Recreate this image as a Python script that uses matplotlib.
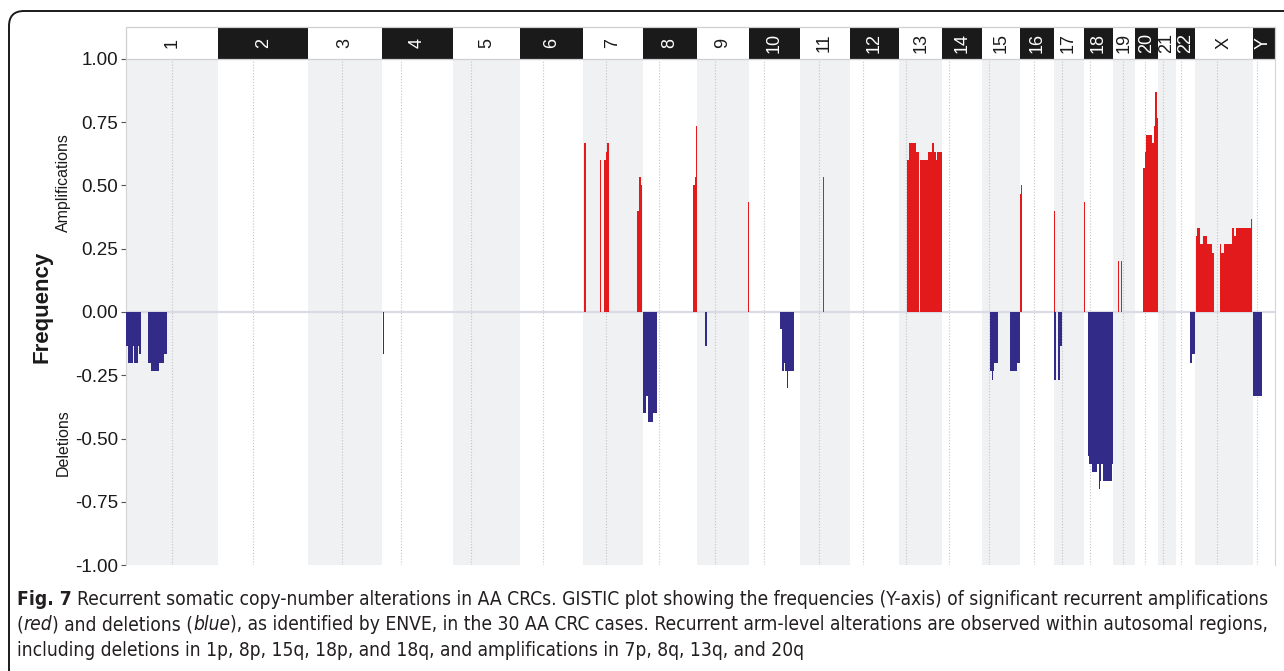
import matplotlib
matplotlib.use("Agg")
import matplotlib.pyplot as plt
from matplotlib.patches import Rectangle, FancyBboxPatch
from matplotlib.transforms import IdentityTransform

# ---------------------------------------------------------------- data
CHROMS = ['1', '2', '3', '4', '5', '6', '7', '8', '9', '10', '11', '12',
          '13', '14', '15', '16', '17', '18', '19', '20', '21', '22', 'X', 'Y']
CHROM_LEN_MB = [249.25, 243.20, 198.02, 191.15, 180.92, 171.12, 159.14, 146.36,
                141.21, 135.53, 135.01, 133.85, 115.17, 107.35, 102.53, 90.35,
                81.20, 78.08, 59.13, 63.03, 48.13, 51.30, 155.27, 59.37]
CENTROMERE_MB = [125.0, 93.3, 91.0, 50.4, 48.4, 61.0, 59.9, 45.6, 49.0, 40.2,
                 53.7, 35.8, 17.9, 17.6, 19.0, 36.6, 24.0, 17.2, 26.5, 27.5,
                 13.2, 14.7, 60.6, 12.5]

# recurrent amplified segments: (chromosome, start Mb, end Mb, frequency)
AMP_SEGMENTS = [
    ('1', 153.6, 154.0, 0.533),
    ('4', 3.0, 3.5, 0.267),
    ('5', 142.3, 142.7, 0.500), ('5', 142.7, 143.0, 0.433),
    ('6', 29.0, 29.3, 0.467),
    ('7', 1.5, 7.0, 0.667), ('7', 43.5, 47.0, 0.600),
    ('7', 56.3, 60.1, 0.600), ('7', 60.1, 64.4, 0.633), ('7', 64.4, 68.2, 0.667),
    ('7', 102.8, 103.2, 0.367),
    ('7', 145.5, 149.3, 0.400), ('7', 149.3, 154.5, 0.533),
    ('7', 154.5, 157.0, 0.500), ('7', 157.0, 159.1, 0.467),
    ('8', 136.5, 140.8, 0.500), ('8', 140.8, 143.0, 0.533),
    ('8', 143.0, 145.0, 0.633), ('8', 145.0, 146.0, 0.733),
    ('9', 138.5, 141.0, 0.433),
    ('11', 4.0, 4.4, 0.267), ('11', 64.0, 67.0, 0.533),
    ('13', 21.5, 25.3, 0.600), ('13', 25.3, 45.0, 0.667), ('13', 45.0, 54.0, 0.633),
    ('13', 54.4, 78.0, 0.600), ('13', 78.0, 86.8, 0.633), ('13', 87.2, 93.5, 0.667),
    ('13', 93.5, 98.6, 0.633), ('13', 99.0, 101.5, 0.600), ('13', 101.5, 114.5, 0.633),
    ('13', 114.5, 115.1, 0.667),
    ('16', 0.3, 3.8, 0.467), ('16', 3.8, 4.4, 0.500),
    ('17', 0.2, 3.6, 0.400), ('17', 41.0, 41.4, 0.500),
    ('18', 1.8, 2.3, 0.433),
    ('19', 15.2, 15.7, 0.200), ('19', 23.0, 24.6, 0.200), ('19', 24.6, 25.2, 0.267),
    ('19', 53.8, 55.5, 0.133),
    ('20', 23.6, 27.3, 0.567), ('20', 27.3, 30.7, 0.633), ('20', 30.7, 38.6, 0.700),
    ('20', 39.2, 47.3, 0.700), ('20', 47.3, 51.7, 0.667), ('20', 51.7, 56.2, 0.733),
    ('20', 56.2, 59.6, 0.867), ('20', 59.6, 62.5, 0.767),
    ('X', 1.9, 6.2, 0.300), ('X', 6.2, 12.7, 0.333), ('X', 12.7, 21.7, 0.267),
    ('X', 21.7, 26.8, 0.300), ('X', 27.4, 32.5, 0.300), ('X', 32.5, 40.5, 0.267),
    ('X', 41.1, 46.9, 0.267), ('X', 46.9, 52.3, 0.233), ('X', 66.9, 71.3, 0.267),
    ('X', 71.3, 78.6, 0.233), ('X', 78.6, 101.1, 0.267), ('X', 101.1, 105.7, 0.333),
    ('X', 105.7, 110.3, 0.300), ('X', 110.3, 118.6, 0.333), ('X', 119.2, 129.5, 0.333),
    ('X', 130.1, 137.5, 0.333), ('X', 138.1, 151.0, 0.333), ('X', 151.0, 154.3, 0.367),
    ('X', 154.3, 155.0, 0.433),
]

# recurrent deleted segments: (chromosome, start Mb, end Mb, frequency)
DEL_SEGMENTS = [
    ('1', 2.2, 7.5, -0.133), ('1', 7.5, 18.9, -0.200), ('1', 18.9, 19.6, -0.233),
    ('1', 19.6, 22.9, -0.133), ('1', 22.9, 27.5, -0.200), ('1', 27.5, 29.1, -0.133),
    ('1', 29.1, 32.9, -0.200), ('1', 32.9, 36.4, -0.133), ('1', 36.4, 40.9, -0.167),
    ('1', 40.9, 42.6, -0.133),
    ('1', 61.4, 67.9, -0.200), ('1', 67.9, 89.4, -0.233), ('1', 89.4, 102.9, -0.200),
    ('1', 102.9, 111.8, -0.167),
    ('4', 3.5, 5.0, -0.167),
    ('8', 2.2, 9.4, -0.400), ('8', 9.4, 14.8, -0.333), ('8', 14.8, 29.1, -0.433),
    ('8', 29.1, 39.1, -0.400),
    ('9', 23.0, 26.5, -0.133),
    ('10', 83.0, 88.4, -0.067), ('10', 88.4, 93.8, -0.233), ('10', 93.8, 97.5, -0.200),
    ('10', 97.5, 102.9, -0.233), ('10', 102.9, 104.0, -0.300), ('10', 104.0, 119.9, -0.233),
    ('15', 21.8, 26.4, -0.233), ('15', 26.4, 30.7, -0.267), ('15', 30.7, 32.6, -0.233),
    ('15', 32.6, 40.7, -0.200), ('15', 40.7, 41.3, -0.300), ('15', 41.3, 44.2, -0.200),
    ('15', 76.5, 78.8, -0.233), ('15', 78.8, 79.5, -0.300), ('15', 79.5, 83.0, -0.233),
    ('15', 83.0, 83.6, -0.267), ('15', 83.6, 93.7, -0.233), ('15', 93.7, 102.4, -0.200),
    ('17', 0.5, 5.9, -0.267), ('17', 12.9, 16.7, -0.267), ('17', 16.7, 23.7, -0.133),
    ('18', 9.5, 10.0, -0.600),
    ('18', 11.0, 15.4, -0.567), ('18', 15.4, 21.8, -0.600), ('18', 21.8, 35.3, -0.633),
    ('18', 35.3, 40.7, -0.600), ('18', 40.7, 46.1, -0.667), ('18', 46.1, 52.3, -0.600),
    ('18', 52.3, 75.7, -0.667), ('18', 75.7, 78.0, -0.600), ('18', 42.0, 42.6, -0.700),
    ('22', 18.3, 19.0, -0.200), ('22', 38.3, 40.5, -0.200), ('22', 40.5, 41.2, -0.233),
    ('22', 41.2, 43.0, -0.200), ('22', 43.0, 50.9, -0.167),
    ('Y', 2.0, 26.0, -0.333),
]

Y_TICKS = [1.00, 0.75, 0.50, 0.25, 0.00, -0.25, -0.50, -0.75, -1.00]

CAPTION_LINES = [
    [("Fig. 7", "bold"), (" ", "normal"),
     ("Recurrent somatic copy-number alterations in AA CRCs. GISTIC plot showing the "
      "frequencies (Y-axis) of significant recurrent amplifications", "normal")],
    [("(", "normal"), ("red", "italic"), (") and deletions (", "normal"), ("blue", "italic"),
     ("), as identified by ENVE, in the 30 AA CRC cases. Recurrent arm-level alterations "
      "are observed within autosomal regions,", "normal")],
    [("including deletions in 1p, 8p, 15q, 18p, and 18q, and amplifications in 7p, 8q, "
      "13q, and 20q", "normal")],
]

# ---------------------------------------------------------------- style
AMP_COLOR = '#E31A1C'
DEL_COLOR = '#322C88'
BAND_COLOR = '#F0F1F3'
HEADER_DARK = '#1A1A1A'
TEXT_COLOR = '#1A1A1A'
CAPTION_COLOR = '#231F20'
CAPTION_FONT = ['DejaVu Sans']
AXIS_FONT = ['Liberation Sans', 'DejaVu Sans']

W_PX, H_PX = 1284, 671
fig = plt.figure(figsize=(W_PX / 100, H_PX / 100), dpi=100)
fig.patch.set_facecolor('white')

# genome offsets
offsets = {}
pos = 0.0
for c, ln in zip(CHROMS, CHROM_LEN_MB):
    offsets[c] = pos
    pos += ln
genome_len = pos

left_px, right_px = 125.5, 1274.6
top_px, bottom_px = 58.7, 565.3
header_top_px = 27.0
ax_rect = [left_px / W_PX, 1 - bottom_px / H_PX,
           (right_px - left_px) / W_PX, (bottom_px - top_px) / H_PX]
hdr_rect = [left_px / W_PX, 1 - top_px / H_PX,
            (right_px - left_px) / W_PX, (top_px - header_top_px) / H_PX]

ax = fig.add_axes(ax_rect)
ax.set_xlim(0, genome_len)
ax.set_ylim(-1.0, 1.0)

# alternating chromosome bands and centromere guides
for i, c in enumerate(CHROMS):
    x0 = offsets[c]
    if i % 2 == 0:
        ax.axvspan(x0, x0 + CHROM_LEN_MB[i], color=BAND_COLOR, lw=0, zorder=0)
    ax.axvline(x0 + CENTROMERE_MB[i], color='#C4C4C8', lw=0.8,
               ls=(0, (1, 1.6)), zorder=1)

ax.axhline(0, color='#DADBE4', lw=1.6, zorder=1.5)

for segs, col in ((AMP_SEGMENTS, AMP_COLOR), (DEL_SEGMENTS, DEL_COLOR)):
    xs = [offsets[c] + s for c, s, e, f in segs]
    ws = [e - s for c, s, e, f in segs]
    hs = [f for c, s, e, f in segs]
    ax.bar(xs, hs, width=ws, bottom=0, align='edge', color=col, lw=0, zorder=3)

ax.set_yticks(Y_TICKS)
ax.set_yticklabels([f"{v:.2f}" for v in Y_TICKS], fontfamily=AXIS_FONT,
                   fontsize=13.5, color=TEXT_COLOR)
ax.tick_params(axis='y', length=3.5, width=0.8, color='#555555', pad=2)
ax.set_xticks([])
for side in ('top', 'bottom'):
    ax.spines[side].set_visible(False)
for side in ('left', 'right'):
    ax.spines[side].set_color('#D4D4D8')
    ax.spines[side].set_linewidth(0.8)

# chromosome header strip
hax = fig.add_axes(hdr_rect)
hax.set_xlim(0, genome_len)
hax.set_ylim(0, 1)
hax.axis('off')
for i, c in enumerate(CHROMS):
    dark = (i % 2 == 1)
    hax.add_patch(Rectangle((offsets[c], 0), CHROM_LEN_MB[i], 1,
                            facecolor=HEADER_DARK if dark else 'white', lw=0))
    hax.text(offsets[c] + CHROM_LEN_MB[i] / 2, 0.5, c, rotation=90,
             ha='center', va='center', fontsize=13, fontfamily=AXIS_FONT,
             color='white' if dark else TEXT_COLOR)
hax.add_patch(Rectangle((0, 0), genome_len, 1, fill=False, ec='#CFCFD3', lw=0.9,
                        clip_on=False))

# axis titles
fig.text(42 / W_PX, 1 - 307 / H_PX, 'Frequency', rotation=90, ha='center',
         va='center', fontsize=16, fontweight='bold', fontfamily=AXIS_FONT,
         color=TEXT_COLOR)
fig.text(63 / W_PX, 1 - 183 / H_PX, 'Amplifications', rotation=90, ha='center',
         va='center', fontsize=11.5, fontfamily=AXIS_FONT, color=TEXT_COLOR)
fig.text(63 / W_PX, 1 - 443 / H_PX, 'Deletions', rotation=90, ha='center',
         va='center', fontsize=11.5, fontfamily=AXIS_FONT, color=TEXT_COLOR)

# caption, laid out run by run
renderer = fig.canvas.get_renderer()


def make_text(x_px, base_px, s, size, kind):
    return fig.text(x_px / W_PX, 1 - base_px / H_PX, s, fontsize=size,
                    fontfamily=CAPTION_FONT, fontstretch='condensed',
                    fontweight='bold' if kind == 'bold' else 'normal',
                    fontstyle='italic' if kind == 'italic' else 'normal',
                    ha='left', va='baseline', color=CAPTION_COLOR)


def text_width(s, size):
    t = make_text(0, 0, s, size, 'normal')
    w = t.get_window_extent(renderer).width
    t.remove()
    return w


def draw_line(runs, x_px, base_px, size):
    space = text_width("x x", size) - text_width("xx", size)
    x = x_px
    artists = []
    for txt, kind in runs:
        if txt == " ":
            x += space
            continue
        lead = len(txt) - len(txt.lstrip(" "))
        trail = len(txt) - len(txt.rstrip(" "))
        x += lead * space
        t = make_text(x, base_px, txt.strip(" "), size, kind)
        artists.append(t)
        x = t.get_window_extent(renderer).x1 + trail * space
    return x, artists


base_size = 13.0
end_x, tmp = draw_line(CAPTION_LINES[0], 17, 605, base_size)
for t in tmp:
    t.remove()
cap_size = base_size * (1270 - 17) / (end_x - 17)
for line, base in zip(CAPTION_LINES, (605, 630.5, 656)):
    draw_line(line, 17, base, cap_size)

# rounded frame around the figure panel
frame = FancyBboxPatch((9, -40), 1320, H_PX - 11 + 40,
                       boxstyle='round,pad=0,rounding_size=15',
                       transform=IdentityTransform(), fill=False,
                       ec='#1A1A1A', lw=1.4)
fig.add_artist(frame)

fig.savefig('out.png', dpi=100)
